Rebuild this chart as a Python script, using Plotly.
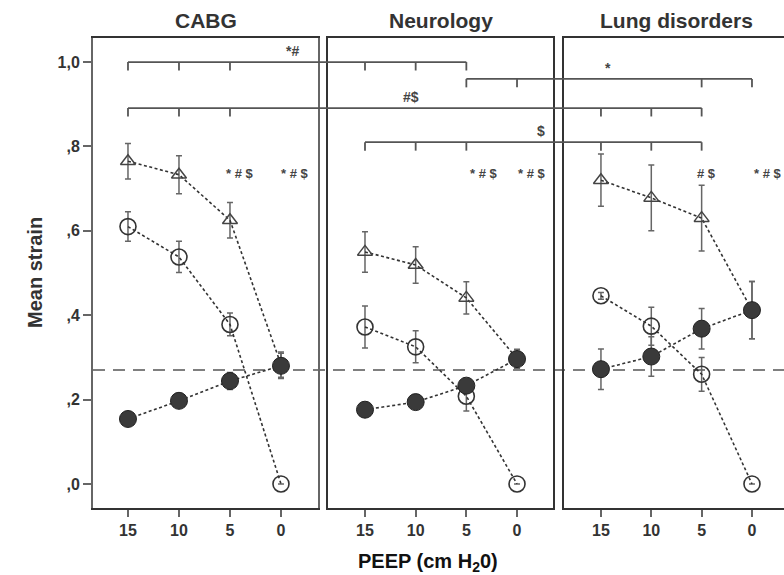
import plotly.graph_objects as go

# ---------------- data ----------------
peep = [15, 10, 5, 0]
panels = ["CABG", "Neurology", "Lung disorders"]

# total strain (open triangles)
tri_cabg = [0.765, 0.733, 0.625, 0.283]
tri_cabg_err = [0.042, 0.045, 0.042, 0.030]
tri_neuro = [0.550, 0.519, 0.441, 0.297]
tri_neuro_err = [0.048, 0.043, 0.038, 0.022]
tri_lung = [0.720, 0.678, 0.630, 0.412]
tri_lung_err = [0.062, 0.078, 0.078, 0.068]

# PEEP-induced strain (open circles)
oc_cabg = [0.610, 0.538, 0.378, 0.0]
oc_cabg_err = [0.035, 0.037, 0.027, 0.0]
oc_neuro = [0.372, 0.325, 0.208, 0.0]
oc_neuro_err = [0.050, 0.038, 0.035, 0.0]
oc_lung = [0.446, 0.374, 0.260, 0.0]
oc_lung_err = [0.008, 0.045, 0.040, 0.0]

# tidal strain (filled circles)
fc_cabg = [0.154, 0.197, 0.244, 0.280]
fc_cabg_err = [0.010, 0.010, 0.020, 0.030]
fc_neuro = [0.176, 0.194, 0.233, 0.296]
fc_neuro_err = [0.010, 0.010, 0.015, 0.022]
fc_lung = [0.272, 0.302, 0.368, 0.412]
fc_lung_err = [0.048, 0.047, 0.048, 0.068]

ref_level = 0.27

y_tickvals = [0.0, 0.2, 0.4, 0.6, 0.8, 1.0]
y_ticktext = [",0", ",2", ",4", ",6", ",8", "1,0"]

D = "&#36;"  # dollar sign (escaped so it is not read as LaTeX)

# significance brackets: (label, level, start(panel, peep), end(panel, peep), ticks, label pos(panel, peep))
brackets = [
    ("*#", 1.000, (0, 15), (1, 5), [(0, 15), (0, 10), (0, 5), (1, 15), (1, 10), (1, 5)], (0, -1.1)),
    ("*", 0.960, (1, 5), (2, 0), [(1, 5), (1, 0), (2, 5), (2, 0)], (2, 14.3)),
    ("#" + D, 0.891, (0, 15), (2, 5), [(0, 15), (0, 10), (0, 5), (2, 15), (2, 10), (2, 5)], (1, 10.5)),
    (D, 0.810, (1, 15), (2, 5), [(1, 15), (1, 10), (1, 5), (2, 15), (2, 10), (2, 5)], (1, -2.4)),
]

# in-panel significance labels: (panel, peep, text, xshift)
panel_marks = [
    (0, 5, "* # " + D, 10), (0, 0, "* # " + D, 14),
    (1, 5, "* # " + D, 18), (1, 0, "* # " + D, 15),
    (2, 5, "# " + D, 5), (2, 0, "* # " + D, 16),
]
mark_level = 0.737

# ---------------- layout geometry ----------------
W, H = 784, 575
domains = [(93 / W, 318 / W), (328 / W, 553 / W), (564 / W, 1.0)]
xranges = [(18.43, -3.63), (18.65, -3.55), (18.67, -3.18)]
yrange = (-0.057, 1.057)

FONT = "Arial, Liberation Sans, sans-serif"
DARK = "#333333"
GRAY = "#666666"

series = [
    (tri_cabg, tri_cabg_err, oc_cabg, oc_cabg_err, fc_cabg, fc_cabg_err),
    (tri_neuro, tri_neuro_err, oc_neuro, oc_neuro_err, fc_neuro, fc_neuro_err),
    (tri_lung, tri_lung_err, oc_lung, oc_lung_err, fc_lung, fc_lung_err),
]

fig = go.Figure()


def err(a):
    return dict(type="data", array=a, visible=True, color=GRAY, thickness=1.5, width=3)


line_style = dict(color=DARK, width=1.6, dash="3px,2.5px")

for i, (tri, tri_e, oc, oc_e, fc, fc_e) in enumerate(series):
    xa = "x" if i == 0 else f"x{i+1}"
    ya = "y" if i == 0 else f"y{i+1}"
    fig.add_trace(go.Scatter(x=peep, y=tri, error_y=err(tri_e), mode="lines+markers",
                             line=line_style, xaxis=xa, yaxis=ya, showlegend=False,
                             marker=dict(symbol="triangle-up-open", size=13,
                                         color="#444444", line=dict(width=1.5, color="#444444"))))
    fig.add_trace(go.Scatter(x=peep, y=oc, error_y=err(oc_e), mode="lines+markers",
                             line=line_style, xaxis=xa, yaxis=ya, showlegend=False,
                             marker=dict(symbol="circle-open", size=16,
                                         color="#333333", line=dict(width=1.6, color="#333333"))))
    fig.add_trace(go.Scatter(x=peep, y=fc, error_y=err(fc_e), mode="lines+markers",
                             line=line_style, xaxis=xa, yaxis=ya, showlegend=False,
                             marker=dict(symbol="circle", size=17, color="#3a3a3a",
                                         line=dict(width=1, color="#222222"))))

tickfont = dict(family=FONT, size=16, color=DARK, weight="bold")
for i in range(3):
    sfx = "" if i == 0 else str(i + 1)
    fig.layout["xaxis" + sfx] = dict(
        domain=list(domains[i]), range=list(xranges[i]), anchor="y" + sfx,
        tickvals=peep, ticktext=[str(v) for v in peep], ticks="outside", ticklen=7,
        tickwidth=2, tickcolor=GRAY, tickfont=tickfont, showgrid=False, zeroline=False,
        showline=True, linecolor=DARK, linewidth=2, mirror=True)
    fig.layout["yaxis" + sfx] = dict(
        domain=[0, 1], range=list(yrange), anchor="x" + sfx,
        tickvals=y_tickvals, ticktext=y_ticktext,
        ticks="outside" if i == 0 else "", ticklen=8, tickwidth=2, tickcolor=GRAY,
        showticklabels=(i == 0), tickfont=tickfont, showgrid=False, zeroline=False,
        showline=True, linecolor=GRAY if i == 0 else DARK, linewidth=2,
        mirror=(i < 2))


def to_paper(p, x):
    d0, d1 = domains[p]
    r0, r1 = xranges[p]
    return d0 + (x - r0) / (r1 - r0) * (d1 - d0)


shapes = []
# reference dashed line
shapes.append(dict(type="line", xref="paper", yref="y", x0=domains[0][0], x1=1.0,
                   y0=ref_level, y1=ref_level,
                   line=dict(color="#555555", width=1.5, dash="12px,8px"), layer="below"))

tick_drop = 0.02
annotations = []
for label, lvl, (ps, xs), (pe, xe), ticks, (pl, xl) in brackets:
    shapes.append(dict(type="line", xref="paper", yref="y", x0=to_paper(ps, xs),
                       x1=to_paper(pe, xe), y0=lvl, y1=lvl,
                       line=dict(color="#555555", width=1.8)))
    for (pt, xt) in ticks:
        xp = to_paper(pt, xt)
        shapes.append(dict(type="line", xref="paper", yref="y", x0=xp, x1=xp,
                           y0=lvl, y1=lvl - tick_drop,
                           line=dict(color="#555555", width=1.8)))
    annotations.append(dict(text=label, xref="paper", yref="y", x=to_paper(pl, xl), y=lvl,
                            yanchor="bottom", xanchor="center", showarrow=False, yshift=1,
                            font=dict(family=FONT, size=14, color="#444444", weight="bold")))

for (p, x, txt, xs) in panel_marks:
    annotations.append(dict(text=txt, xref="paper", yref="y", x=to_paper(p, x), y=mark_level,
                            xanchor="center", yanchor="middle", xshift=xs, showarrow=False,
                            font=dict(family=FONT, size=13, color="#444444", weight="bold")))

for i, name in enumerate(panels):
    cx = domains[i][0] + (225 / W) / 2
    annotations.append(dict(text=name, xref="paper", yref="paper", x=cx, y=1.038,
                            xanchor="center", yanchor="middle", showarrow=False,
                            font=dict(family=FONT, size=21, color=DARK, weight="bold")))

annotations.append(dict(text="Mean strain", xref="paper", yref="paper", x=35 / W, y=0.5,
                        xanchor="center", yanchor="middle", textangle=-90, showarrow=False,
                        font=dict(family=FONT, size=20, color=DARK, weight="bold")))
annotations.append(dict(text="PEEP (cm H<sub>2</sub>0)", xref="paper", yref="paper",
                        x=428 / W, y=-0.115, xanchor="center", yanchor="middle", showarrow=False,
                        font=dict(family=FONT, size=20, color="#111111", weight="bold")))

fig.update_layout(width=W, height=H, margin=dict(l=0, r=0, t=38, b=67),
                  plot_bgcolor="white", paper_bgcolor="white",
                  shapes=shapes, annotations=annotations)

fig.write_html("out.html")
